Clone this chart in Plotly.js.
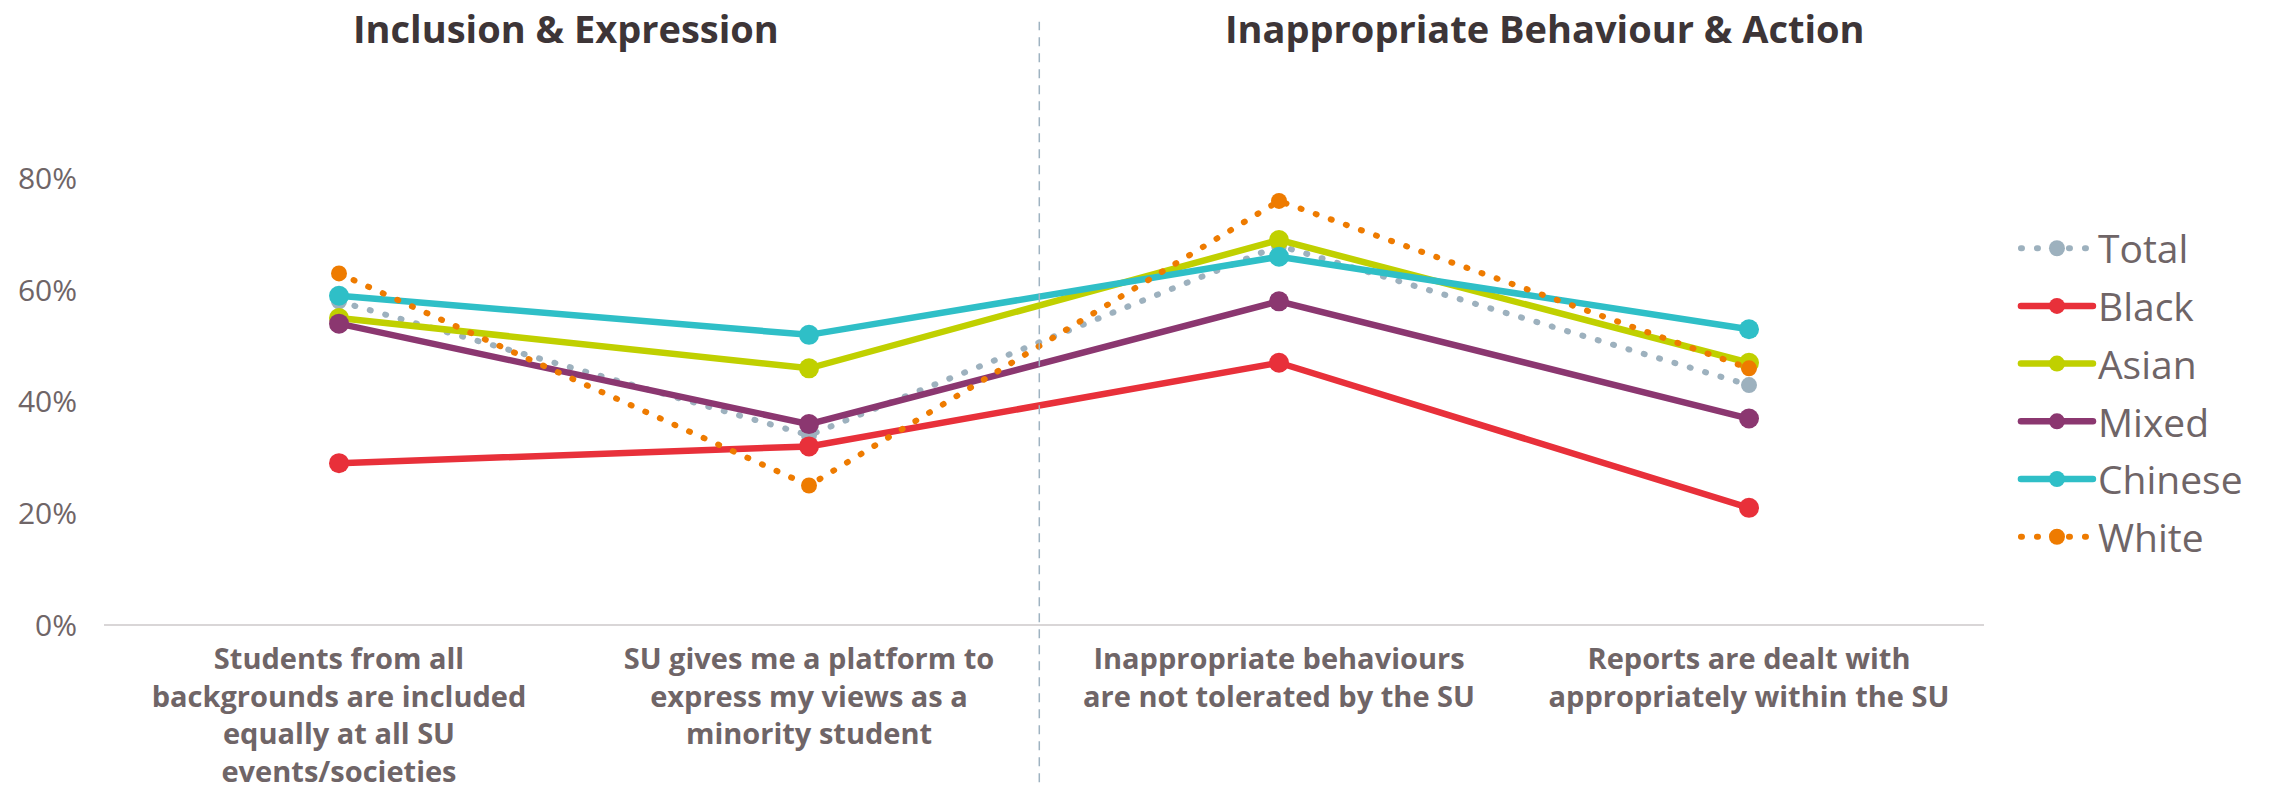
<!DOCTYPE html>
<html>
<head>
<meta charset="utf-8">
<script src="https://cdn.plot.ly/plotly-3.0.1.min.js"></script>
<style>
html,body{margin:0;padding:0;background:#fff;}
#chart{width:2272px;height:791px;}
.scatterlayer .js-line, .legendlines path { stroke-linecap: round; }
</style>
</head>
<body>
<div id="chart"></div>
<script>
const categories = [
  "Students from all<br>backgrounds are included<br>equally at all SU<br>events/societies",
  "SU gives me a platform to<br>express my views as a<br>minority student",
  "Inappropriate behaviours<br>are not tolerated by the SU",
  "Reports are dealt with<br>appropriately within the SU"
];
const seriesNames = ["Total", "Black", "Asian", "Mixed", "Chinese", "White"];
const total   = [0.58, 0.34, 0.68, 0.43];
const black   = [0.29, 0.32, 0.47, 0.21];
const asian   = [0.55, 0.46, 0.69, 0.47];
const mixed   = [0.54, 0.36, 0.58, 0.37];
const chinese = [0.59, 0.52, 0.66, 0.53];
const white   = [0.63, 0.25, 0.76, 0.46];
const sectionTitles = ["Inclusion & Expression", "Inappropriate Behaviour & Action"];
const yTickVals = [0, 0.2, 0.4, 0.6, 0.8];
const yTickText = ["0%", "20%", "40%", "60%", "80%"];

const seriesValues = [total, black, asian, mixed, chinese, white];
const colors = ["#9DB1BE", "#E8303A", "#C0D000", "#8B3770", "#2FBFC7", "#EE7B00"];
const dotted = [true, false, false, false, false, true];
const xIdx = [0, 1, 2, 3];

const traces = seriesNames.map((name, i) => ({
  type: "scatter",
  mode: "lines+markers",
  name: name,
  x: xIdx,
  y: seriesValues[i],
  line: {
    color: colors[i],
    width: dotted[i] ? 6 : 6.5,
    dash: dotted[i] ? "1px,15px" : "solid"
  },
  marker: {
    color: colors[i],
    size: dotted[i] ? 16 : 20,
    symbol: "circle"
  },
  legendgroup: "g" + i,
  hoverinfo: "skip"
}));

const fontFamily = "'Open Sans', 'Noto Sans', sans-serif";
const labelColor = "#6F6567";
const titleColor = "#3D3537";

const layout = {
  width: 2272,
  height: 791,
  paper_bgcolor: "#ffffff",
  plot_bgcolor: "#ffffff",
  margin: { l: 104, r: 288, t: 67, b: 166, pad: 0 },
  showlegend: true,
  font: { family: fontFamily, color: labelColor },
  xaxis: {
    range: [-0.5, 3.5],
    tickvals: xIdx,
    ticktext: categories,
    showgrid: false,
    zeroline: false,
    showline: false,
    ticks: "",
    ticklabelstandoff: 14,
    tickfont: { family: fontFamily, size: 29, color: labelColor, weight: "bold" },
    fixedrange: true
  },
  yaxis: {
    range: [0, 1],
    tickvals: yTickVals,
    ticktext: yTickText,
    showgrid: false,
    zeroline: true,
    zerolinecolor: "#D9D6D7",
    zerolinewidth: 2.5,
    showline: false,
    ticks: "",
    ticklabelstandoff: 26,
    tickfont: { family: fontFamily, size: 30, color: labelColor },
    fixedrange: true
  },
  legend: {
    x: 1.017,
    xanchor: "left",
    y: 0.416,
    yanchor: "middle",
    font: { family: fontFamily, size: 39, color: labelColor },
    tracegroupgap: 4,
    bgcolor: "rgba(0,0,0,0)",
    itemwidth: 72
  },
  shapes: [{
    type: "line",
    xref: "x", yref: "paper",
    x0: 1.49, x1: 1.49,
    y0: -0.282, y1: 1.081,
    line: { color: "#9FB3C1", width: 1.5, dash: "9px,7px" }
  }],
  annotations: [
    {
      text: sectionTitles[0],
      xref: "paper", yref: "paper",
      x: 0.2457, y: 1.069,
      xanchor: "center", yanchor: "middle",
      showarrow: false,
      font: { family: fontFamily, size: 38, color: titleColor, weight: "bold" }
    },
    {
      text: sectionTitles[1],
      xref: "paper", yref: "paper",
      x: 0.7665, y: 1.069,
      xanchor: "center", yanchor: "middle",
      showarrow: false,
      font: { family: fontFamily, size: 38, color: titleColor, weight: "bold" }
    }
  ]
};

Plotly.newPlot("chart", traces, layout, { displayModeBar: false, staticPlot: true });
</script>
</body>
</html>
